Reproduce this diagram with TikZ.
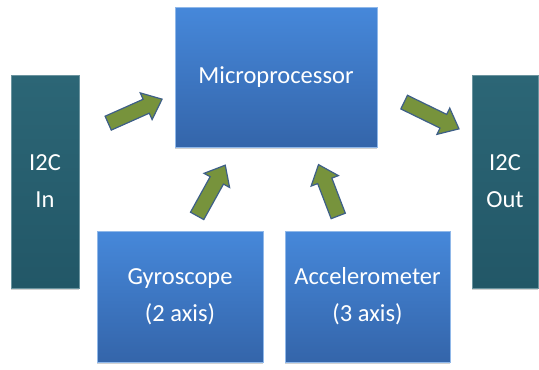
\documentclass[tikz,border=0pt]{standalone}
\usepackage{fontspec}
\setmainfont{Carlito}
\usetikzlibrary{shapes.arrows,shadows}
\definecolor{procTop}{HTML}{4688DA}
\definecolor{procBot}{HTML}{3465AA}
\definecolor{busTop}{HTML}{2C6676}
\definecolor{busBot}{HTML}{225767}
\definecolor{flowFill}{HTML}{77933C}
\definecolor{flowLine}{HTML}{3E5F88}
\begin{document}
\begin{tikzpicture}[x=1pt,y=-1pt,
  block/.style={rectangle, inner sep=0pt, text=white, align=center,
    font=\fontsize{24.5}{37}\selectfont,
    draw=white!40!procTop, line width=0.4pt,
    top color=procTop, bottom color=procBot,
    drop shadow={shadow xshift=0pt, shadow yshift=-2pt, opacity=0.3, fill=black!60}},
  bus/.style={block, draw=white!30!busTop, top color=busTop, bottom color=busBot},
  flow/.style={single arrow, inner xsep=0pt, inner ysep=7pt, minimum width=28pt,
    single arrow head extend=7pt, single arrow tip angle=80,
    fill=flowFill, draw=flowLine, line width=1.2pt}]
  \useasboundingbox (0,0) rectangle (539,370);

  % functional blocks
  \node[block, minimum width=202pt, minimum height=140pt] (mcu) at (276,77) {Microprocessor};
  \node[block, minimum width=166pt, minimum height=131pt] (gyro) at (180,296.5) {Gyroscope\\(2 axis)};
  \node[block, minimum width=165pt, minimum height=131pt] (acc) at (367.5,296.5) {Accelerometer\\(3 axis)};

  % I2C bus ends
  \node[bus, minimum width=68pt, minimum height=213pt] (in) at (45,181.5) {I2C\\In};
  \node[bus, minimum width=66pt, minimum height=213pt] (out) at (505,181.5) {I2C\\Out};

  % data-flow arrows
  \node[flow, minimum height=59pt, rotate=24] (fin) at (131,113) {};
  \node[flow, minimum height=61pt, rotate=-26] (fout) at (427.5,113.5) {};
  \node[flow, minimum height=58pt, rotate=61] (fgyro) at (209,194.5) {};
  \node[flow, minimum height=55pt, rotate=111] (facc) at (330,194.5) {};
\end{tikzpicture}
\end{document}
